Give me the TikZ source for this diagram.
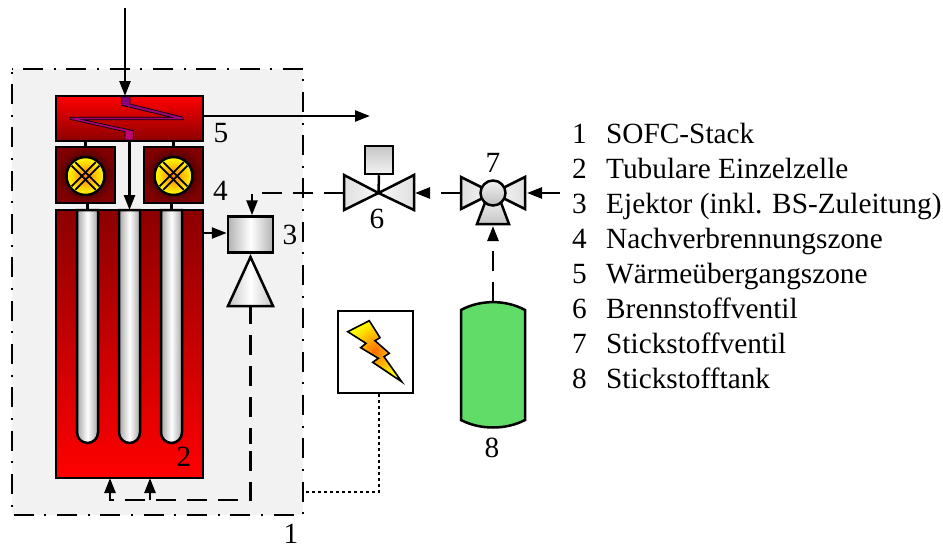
\documentclass[tikz,border=0pt]{standalone}
\usepackage{fontspec}
\setmainfont{Liberation Serif}
\usetikzlibrary{arrows.meta, shapes.geometric, calc}
\definecolor{coiltop}{RGB}{128,0,128}
\definecolor{coilbot}{RGB}{205,0,120}
\definecolor{tankgreen}{RGB}{98,220,104}
\tikzset{
  part/.style={rectangle, draw, line width=2.5pt, inner sep=0pt},
  hotbox/.style={part, minimum width=147pt, top color=red, bottom color=red!55!black},
  burnbox/.style={part, minimum width=59pt, minimum height=56pt, inner color=black, outer color=red!50!black},
  flame/.style={circle, draw, line width=2.5pt, inner sep=0pt, minimum size=38pt, inner color=orange, outer color=yellow},
  grayvert/.style={part, left color=gray!60, right color=gray!60, middle color=white},
  grayhorz/.style={draw, line width=2.5pt, top color=gray!15, bottom color=gray!45},
  tube/.style={draw, line width=2.5pt, left color=gray!70, right color=gray!70, middle color=white},
  arr/.style={-{Triangle[length=15pt, width=11pt]}, line width=2.5pt},
  flow/.style={arr, dash pattern=on 20pt off 11pt},
  pipe/.style={line width=2.5pt, dash pattern=on 20pt off 11pt},
  wire/.style={line width=2.5pt, dash pattern=on 3pt off 3pt},
  lab/.style={font=\fontsize{29.3}{34}\selectfont, inner sep=0pt},
  leg/.style={lab, anchor=base west},
}
\begin{document}
\begin{tikzpicture}[x=1pt, y=-1pt]
  \useasboundingbox (0,0) rectangle (943,544);

  % system boundary
  \node[rectangle, fill=gray!10, minimum width=291pt, minimum height=446pt, inner sep=0pt] (sys) at (157.5,292) {};
  \draw[line width=2.5pt, dash pattern=on 20pt off 10.65pt on 2pt off 10.65pt, dash phase=31.95pt]
    (sys.north west) -- (sys.north east) -- (sys.south east) -- (sys.south west) -- cycle;

  % stack and tubes
  \node[hotbox, minimum height=268pt, top color=red!55!black, bottom color=red] (stack) at (129.5,344) {};
  \foreach \n/\x in {A/87.5, B/129.5, C/171.5} {
    \coordinate (tube\n) at (\x,210);
    \path[tube] (\x-10.5,210) -- (\x-10.5,432.5) arc[start angle=180, end angle=0, x radius=10.5, y radius=10.5]
      -- (\x+10.5,210) -- cycle;
  }

  % heat exchanger
  \node[hotbox, minimum height=45pt] (hex) at (129.5,118.5) {};
  \path[draw=black, line width=0.7pt, top color=coiltop, bottom color=coilbot]
    (121.7,96.7) -- (130,96.7) -- (130,104) -- (183.3,117.3) -- (183.3,119.7) -- (82.7,119.7)
    -- (133.3,130.7) -- (133.3,140) -- (125,140) -- (125,131.7) -- (70,119.3) -- (70,117.3)
    -- (171.7,117.3) -- (121.7,105.3) -- cycle;

  % burners
  \foreach \n/\x in {A/85.5, C/173.5} {
    \node[burnbox] (burn\n) at (\x,175) {};
    \node[flame] (flame\n) at (\x,176) {};
    \foreach \a in {45,135} {
      \draw[line width=1.8pt] ($(flame\n)+(\a:17)+(\a+90:2.5)$) -- ($(flame\n)+(\a+180:17)+(\a+90:2.5)$);
      \draw[line width=1.8pt] ($(flame\n)+(\a:17)+(\a-90:2.5)$) -- ($(flame\n)+(\a+180:17)+(\a-90:2.5)$);
    }
    \draw[line width=2.5pt] (burn\n.north) -- (burn\n.north |- hex.south);
    \draw[line width=2.5pt] (tube\n) -- (tube\n |- burn\n.south);
  }

  % ejector
  \node[grayvert, minimum width=45pt, minimum height=36pt] (ejhead) at (250.5,234.5) {};
  \coordinate (ejtip) at (250.5,257);
  \path[grayhorz, left color=gray!45, right color=gray!45, middle color=white] (ejtip) -- (273,306) -- (228,306) -- cycle;
  \coordinate (ejbase) at (250.5,306);

  % valve 6
  \coordinate (vfuel) at (378.5,193);
  \path[grayhorz, left color=gray!25, right color=gray!5] (344,175) -- (vfuel) -- (344,210) -- cycle;
  \path[grayhorz, left color=gray!5, right color=gray!25] (414,175) -- (vfuel) -- (414,210) -- cycle;
  \node[part, minimum width=28pt, minimum height=28pt, top color=gray!45, bottom color=gray!10] (vact) at (379,160) {};
  \draw[line width=2.5pt] (vact.south) -- (vfuel);
  \coordinate (vfuelL) at (344,193);

  % valve 7
  \coordinate (vnit) at (493,193);
  \path[grayhorz, left color=gray!25, right color=gray!5] (461,177) -- (vnit) -- (461,209) -- cycle;
  \path[grayhorz, left color=gray!5, right color=gray!25] (525,177) -- (vnit) -- (525,209) -- cycle;
  \path[grayhorz] (486,200) -- (500,200) -- (509,224) -- (477,224) -- cycle;
  \node[circle, draw, line width=2.5pt, minimum size=25pt, inner sep=0pt, top color=gray!10, bottom color=gray!50] (vball) at (vnit) {};
  \coordinate (vnitL) at (461,193);
  \coordinate (vnitR) at (527,193);
  \coordinate (vnitB) at (493,226);
  \coordinate (feed) at (560,193);

  % tank
  \path[draw, line width=2.5pt, fill=tankgreen]
    (461,310) .. controls (480,299.5) and (506,299.5) .. (525,310) -- (525,420)
    .. controls (506,430) and (480,430) .. (461,420) -- cycle;
  \coordinate (tanktop) at (493,302);

  % power supply
  \node[part, fill=white, minimum width=75pt, minimum height=82pt] (power) at (375.7,352) {};
  \path[draw, line width=1.6pt, inner color=orange!85!red, outer color=yellow]
    (347.7,331.7) -- (369.3,320.7) -- (380,337.7) -- (375,340.7) -- (389.3,353.3) -- (384,356.7)
    -- (401.7,381.7) -- (372.7,362.3) -- (378.3,358.3) -- (360.7,347.7) -- (366,343.3) -- cycle;

  % connectors
  \coordinate (inlet) at (125,8);
  \coordinate (outlet) at (370,116);
  \coordinate (hexin) at (125,96);
  \coordinate (stackR) at (203,233);
  \coordinate (fuelturn) at (252,193);
  \coordinate (retgapA) at (250.5,444);
  \coordinate (retgapB) at (250.5,451);
  \coordinate (retturn) at (250.5,500);
  \coordinate (retA) at (110,478);
  \coordinate (retB) at (150,478);
  \coordinate (wireturn) at (379,492);
  \coordinate (wireend) at (303,492);

  \draw[arr] (inlet) -- (hexin);
  \draw[arr] (hex.east |- outlet) -- (outlet);
  \draw[arr] (tubeB |- hex.south) -- (tubeB);
  \draw[arr] (stackR) -- (ejhead.west |- stackR);
  \draw[flow] (vfuelL) -- (fuelturn) -- (fuelturn |- ejhead.north);
  \draw[flow] (vnitL) -- ++(-46,0);
  \draw[arr] (feed) -- (vnitR);
  \draw[flow] (tanktop) -- (vnitB);
  \draw[pipe, dash phase=2pt] (ejbase) -- (retgapA);
  \draw[flow] (retgapB) -- (retturn) -- (retturn -| retA) -- (retA);
  \draw[arr] (retB |- retturn) -- (retB);
  \draw[wire] (wireturn |- power.south) -- (wireturn) -- (wireend);

  % numbers
  \node[lab] (n1) at (291,533.5) {1};
  \node[lab] (n2) at (184,457) {2};
  \node[lab] (n3) at (290,235) {3};
  \node[lab] (n4) at (220.5,191) {4};
  \node[lab] (n5) at (221,133) {5};
  \node[lab] (n6) at (377,219) {6};
  \node[lab] (n7) at (493,163) {7};
  \node[lab] (n8) at (492,448) {8};

  % legend
  \foreach \i/\t [count=\k from 0] in {1/SOFC-Stack, 2/Tubulare Einzelzelle, 3/Ejektor (inkl. BS-Zuleitung),
      4/Nachverbrennungszone, 5/Wärmeübergangszone, 6/Brennstoffventil, 7/Stickstoffventil, 8/Stickstofftank} {
    \node[leg] (num\i) at (572,143+35*\k) {\i};
    \node[leg] (txt\i) at (606,143+35*\k) {\t};
  }
\end{tikzpicture}
\end{document}
